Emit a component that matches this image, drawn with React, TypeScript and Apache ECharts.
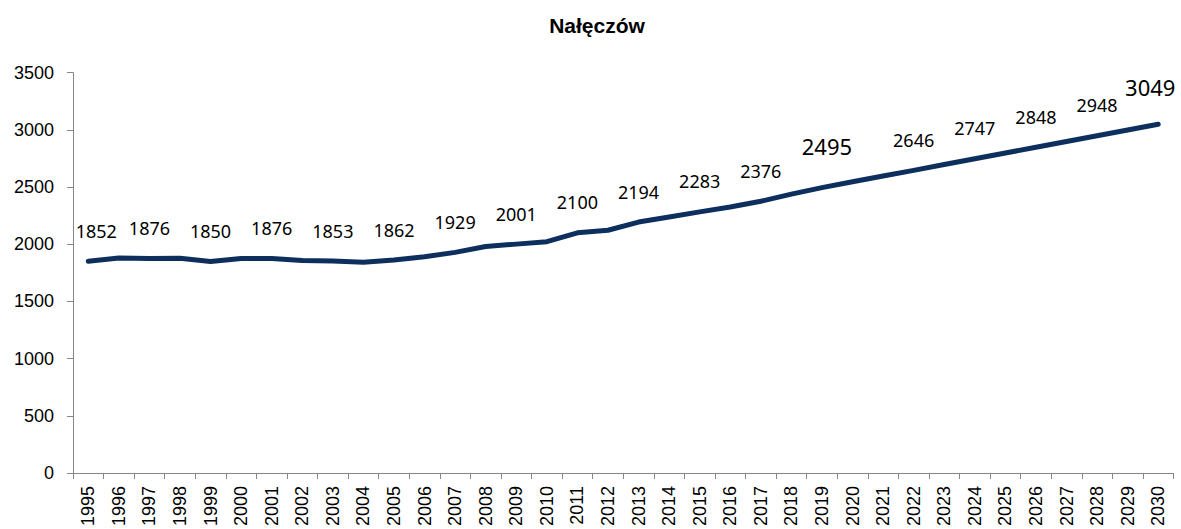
import React, { useEffect, useRef } from "react";
import * as echarts from "echarts";

const title = "Nałęczów";
const years = [
  "1995","1996","1997","1998","1999","2000","2001","2002","2003","2004","2005","2006",
  "2007","2008","2009","2010","2011","2012","2013","2014","2015","2016","2017","2018",
  "2019","2020","2021","2022","2023","2024","2025","2026","2027","2028","2029","2030",
];
const population = [
  1852, 1880, 1876, 1878, 1850, 1876, 1876, 1857, 1853, 1843, 1862, 1890,
  1929, 1980, 2001, 2022, 2100, 2122, 2194, 2238, 2283, 2325, 2376, 2438,
  2495, 2547, 2597, 2646, 2697, 2747, 2798, 2848, 2898, 2948, 2999, 3049,
];
const labeledYears = [
  "1995","1997","1999","2001","2003","2005","2007","2009","2011","2013","2015","2017",
  "2019","2022","2024","2026","2028","2030",
];
const bigLabelYears = ["2019", "2030"];
const yTicks = [0, 500, 1000, 1500, 2000, 2500, 3000, 3500];

const LINE = "#0c2f5e";
const AXIS = "#868686";

export default function App() {
  const ref = useRef<HTMLDivElement>(null);
  useEffect(() => {
    if (!ref.current) return;
    const chart = echarts.init(ref.current, undefined, { renderer: "svg" });
    const data = years.map((y, i) => {
      const v = population[i];
      if (!labeledYears.includes(y)) return { value: v };
      const big = bigLabelYears.includes(y);
      return {
        value: v,
        label: {
          show: true,
          position: "top",
          distance: big ? (y === "2030" ? 26 : 30) : 21,
          fontSize: big ? 22 : 18,
          fontFamily: "Noto Sans",
          color: "#000",
          formatter: "{c}",
        },
      };
    });
    const dxFor = (i: number) => {
      const y = years[i];
      if (i === 0) return 8;
      if (y === "2019") return 5;
      if (y === "2030") return -8;
      return 0;
    };
    chart.setOption({
      animation: false,
      backgroundColor: "#fff",
      graphic: [
        {
          type: "text",
          x: 597,
          y: 25,
          style: {
            text: title,
            fontSize: 21,
            fontWeight: "bold",
            fontFamily: "Liberation Sans",
            fill: "#000",
            textAlign: "center",
            textVerticalAlign: "middle",
          },
        },
      ],
      grid: { left: 73, right: 7.5, top: 72.7, bottom: 56, containLabel: false },
      xAxis: {
        type: "category",
        data: years,
        boundaryGap: true,
        axisLine: { show: true, lineStyle: { color: AXIS, width: 1 } },
        axisTick: { show: true, length: 6, lineStyle: { color: AXIS } },
        axisLabel: {
          rotate: 90,
          interval: 0,
          margin: 13,
          fontSize: 18,
          fontFamily: "Liberation Sans",
          color: "#000",
        },
        splitLine: { show: false },
      },
      yAxis: {
        type: "value",
        min: yTicks[0],
        max: yTicks[yTicks.length - 1],
        interval: yTicks[1] - yTicks[0],
        axisLine: { show: true, lineStyle: { color: AXIS, width: 1 } },
        axisTick: { show: true, length: 6, lineStyle: { color: AXIS } },
        axisLabel: {
          margin: 19,
          fontSize: 18,
          fontFamily: "Liberation Sans",
          color: "#000",
          formatter: (v: number) => String(v),
        },
        splitLine: { show: false },
      },
      series: [
        {
          type: "line",
          data,
          symbol: "circle",
          symbolSize: 1,
          showSymbol: true,
          showAllSymbol: true,
          itemStyle: { color: LINE },
          lineStyle: { color: LINE, width: 5, cap: "round", join: "round" },
          labelLayout: (params: any) => ({ dx: dxFor(params.dataIndex), hideOverlap: false }),
        },
      ],
    });
    return () => chart.dispose();
  }, []);
  return (
    <div
      ref={ref}
      style={{ position: "fixed", left: 0, top: 0, width: 1181, height: 529 }}
    />
  );
}
